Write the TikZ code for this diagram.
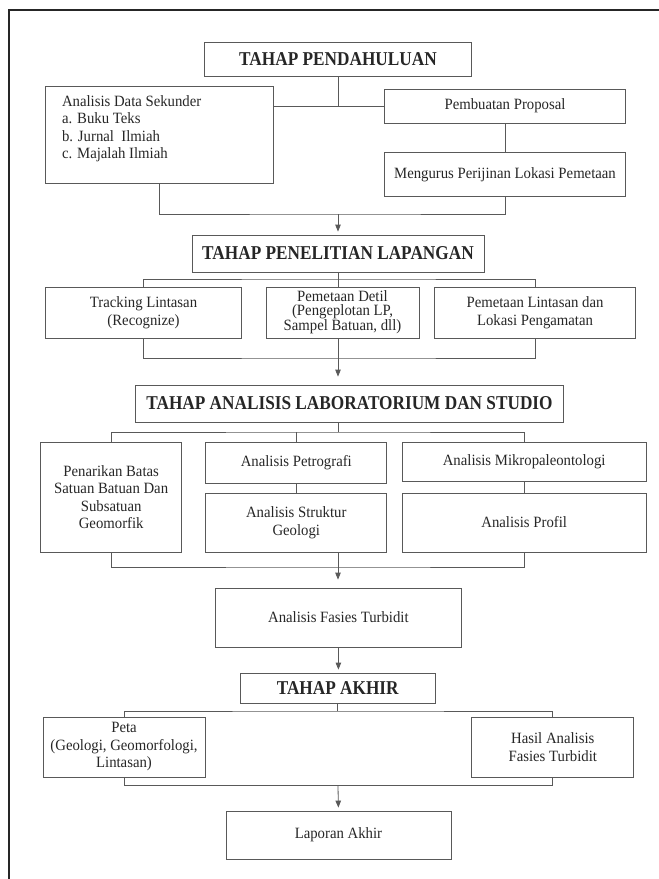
\documentclass[tikz,border=0pt]{standalone}
\usepackage{fontspec}
\setmainfont{Liberation Serif}[FakeStretch=0.94]
\newfontfamily\judulfont{Liberation Serif}[FakeStretch=0.88]
\usetikzlibrary{arrows.meta}
\tikzset{
  kotak/.style={draw=black!65, line width=0.8pt, text=black!85, align=center, inner sep=0pt, font=\fontsize{15.7}{17.5}\selectfont},
  judul/.style={kotak, font=\judulfont\bfseries\fontsize{19.6}{22}\selectfont},
  ukuran/.style 2 args={minimum width=#1pt, minimum height=#2pt},
  garis/.style={draw=black!65, line width=0.8pt},
  panah/.style={garis, -{Triangle[length=7pt,width=5.5pt]}, shorten >=3pt},
}
\begin{document}
\begin{tikzpicture}[x=1pt,y=-1pt]
      \useasboundingbox (0,0) rectangle (659,879);
      \pgfmathsetmacro{\xm}{338}
      \draw[black!85, line width=2pt] (8.5,879) -- (8.5,10) -- (659,10);
      \node[judul, ukuran={267}{34}] (pendahuluan) at (\xm,59) {TAHAP PENDAHULUAN};
      \node[kotak, ukuran={228}{97}] (sekunder) at (159,134.5) {\parbox[c][78pt][t]{194pt}{\raggedright Analisis Data Sekunder\\a. Buku Teks\\b. Jurnal\ \ Ilmiah\\c. Majalah Ilmiah}};
      \node[kotak, ukuran={241}{34}] (proposal) at (505,106) {Pembuatan Proposal};
      \node[kotak, ukuran={241}{44}] (perijinan) at (505,174.7) {Mengurus Perijinan Lokasi Pemetaan};
      \draw[garis] (pendahuluan.south) -- (pendahuluan.south |- proposal.west);
      \draw[garis] (sekunder.east |- proposal.west) -- (proposal.west);
      \draw[garis] (proposal) -- (perijinan);
      \coordinate (j1) at (\xm,214);
      \draw[garis] (sekunder.south) |- (j1) -| (perijinan.south);
      \node[judul, ukuran={292}{37}] (penelitian) at (\xm,253.5) {TAHAP PENELITIAN LAPANGAN};
      \draw[panah] (j1) -- (penelitian.north);
      \node[kotak, ukuran={196}{51}] (tracking) at (143.5,312.5) {Tracking Lintasan\\(Recognize)};
      \node[kotak, ukuran={153}{51}, font=\fontsize{15.7}{14}\selectfont] (detil) at (342.5,312.5) {Pemetaan Detil\\(Pengeplotan LP,\\Sampel Batuan, dll)};
      \node[kotak, ukuran={201}{51}] (lintasan) at (535,312.5) {Pemetaan Lintasan dan\\Lokasi Pengamatan};
      \coordinate (c2) at (\xm,279);
      \draw[garis] (penelitian.south) -- (penelitian.south |- detil.north);
      \draw[garis] (tracking.north) |- (c2) -| (lintasan.north);
      \coordinate (j2) at (\xm,358);
      \draw[garis] (tracking.south) |- (j2) -| (lintasan.south);
      \draw[garis] (detil.south -| j2) -- (j2);
      \node[judul, ukuran={427.5}{37}] (analisis) at (349.5,403.5) {TAHAP ANALISIS LABORATORIUM DAN STUDIO};
      \draw[panah, shorten >=8pt] (j2) -- (j2 |- analisis.north);
      \node[kotak, ukuran={141}{110}] (penarikan) at (111.2,497) {Penarikan Batas\\Satuan Batuan Dan\\Subsatuan\\Geomorfik};
      \node[kotak, ukuran={181}{41}] (petrografi) at (296.3,462.5) {Analisis Petrografi};
      \node[kotak, ukuran={181}{59}] (struktur) at (296.3,522.5) {Analisis Struktur\\Geologi};
      \node[kotak, ukuran={244}{39}] (mikro) at (524.2,461.5) {Analisis Mikropaleontologi};
      \node[kotak, ukuran={244}{59}] (profil) at (524.2,522.5) {Analisis Profil};
      \coordinate (c3) at (\xm,432);
      \draw[garis] (analisis.south -| c3) -- (c3);
      \draw[garis] (penarikan.north) |- (c3) -| (mikro.north);
      \draw[garis] (petrografi.north) -- (petrografi.north |- c3);
      \draw[garis] (petrografi) -- (struktur);
      \draw[garis] (mikro) -- (profil);
      \coordinate (j3) at (\xm,567);
      \draw[garis] (penarikan.south) |- (j3) -| (profil.south);
      \draw[garis] (struktur.south -| j3) -- (j3);
      \node[kotak, ukuran={245.5}{59}] (fasies) at (338.4,617.5) {Analisis Fasies Turbidit};
      \draw[panah, shorten >=8pt] (j3) -- (j3 |- fasies.north);
      \node[judul, ukuran={194.6}{30}] (akhir) at (337.7,688) {TAHAP AKHIR};
      \draw[panah] (fasies.south) -- (fasies.south |- akhir.north);
      \node[kotak, ukuran={162}{60}] (peta) at (124,747) {Peta\\(Geologi, Geomorfologi,\\Lintasan)};
      \node[kotak, ukuran={162}{60}] (hasil) at (552.8,747) {Hasil Analisis\\Fasies Turbidit};
      \coordinate (c4) at (\xm,711);
      \draw[garis] (akhir.south) -- (akhir.south |- c4);
      \draw[garis] (peta.north) |- (c4) -| (hasil.north);
      \coordinate (j4) at (\xm,785);
      \draw[garis] (peta.south) |- (j4) -| (hasil.south);
      \node[kotak, ukuran={225}{48}] (laporan) at (338.4,835) {Laporan Akhir};
      \draw[panah] (j4) -- (laporan.north);
\end{tikzpicture}
\end{document}
